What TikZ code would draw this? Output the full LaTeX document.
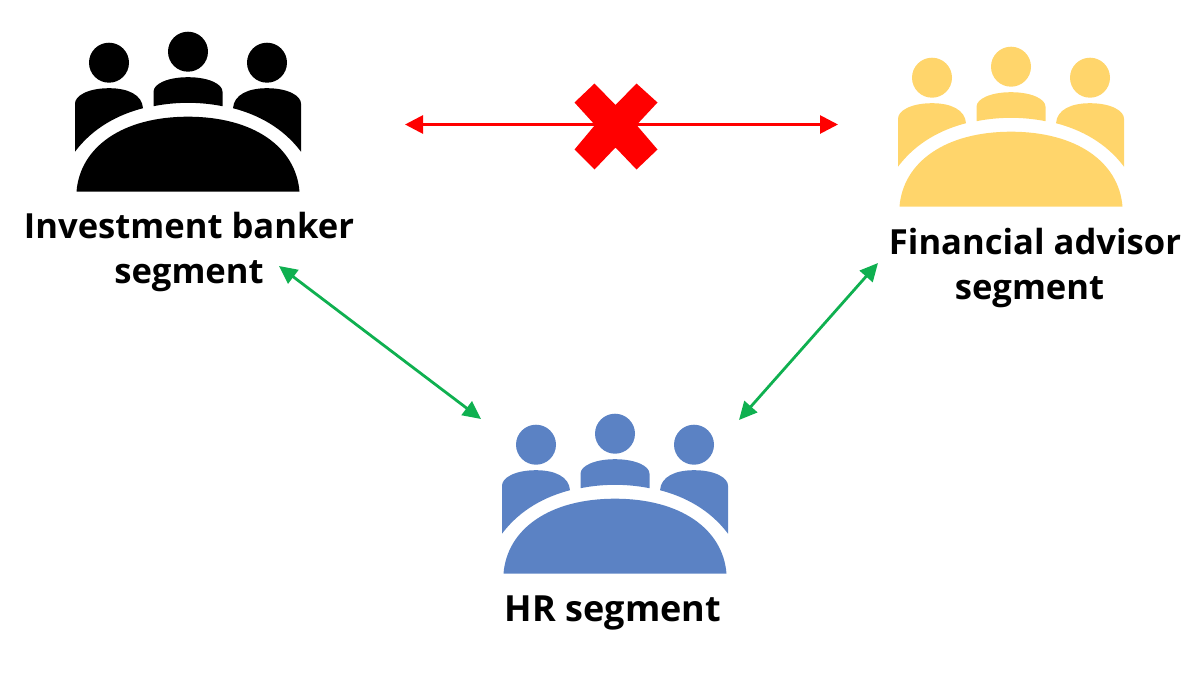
\documentclass[tikz,border=0pt]{standalone}
\usepackage{fontspec}
\setmainfont{Open Sans}
\usetikzlibrary{arrows.meta}
\definecolor{iconyellow}{HTML}{FFD56B}
\definecolor{iconblue}{HTML}{5B82C4}
\definecolor{linkgreen}{HTML}{0FB050}
\tikzset{
  x=1pt,y=-1pt,
  seglabel/.style={font=\fontsize{34.6}{45}\selectfont\bfseries,align=center,text=black,inner sep=0pt},
  redlink/.style={draw=red,line width=2.8pt,{Stealth[length=18pt,width=18pt,inset=0pt]}-{Stealth[length=18pt,width=18pt,inset=0pt]}},
  greenlink/.style={draw=linkgreen,line width=2.8pt,{Stealth[length=18pt,width=17pt,inset=0pt]}-{Stealth[length=18pt,width=17pt,inset=0pt]}},
  pics/meeting/.style={code={
    \fill[#1] (0,-140) circle (20);
    \fill[#1] (-79,-129) circle (20);
    \fill[#1] (79,-129) circle (20);
    % table
    \fill[#1] (-111.5,0) .. controls (-108,-45) and (-65,-75) .. (0,-75) .. controls (65,-75) and (108,-45) .. (111.5,0) -- cycle;
    % centre person
    \fill[#1] (-34.5,-85.5) -- (-34.5,-100) .. controls (-34.5,-108) and (-20,-114.5) .. (0,-114.5) .. controls (20,-114.5) and (34.5,-108) .. (34.5,-100) -- (34.5,-85.5) .. controls (12,-90) and (-12,-90) .. (-34.5,-85.5) -- cycle;
    % left person
    \fill[#1] (-113,-40) -- (-113,-88) .. controls (-113,-96) and (-100,-103.5) .. (-79,-103.5) .. controls (-60,-103.5) and (-46,-97) .. (-45,-83.5) .. controls (-70,-77) and (-95,-64) .. (-113,-40) -- cycle;
    % right person
    \fill[#1] (113,-40) -- (113,-88) .. controls (113,-96) and (100,-103.5) .. (79,-103.5) .. controls (60,-103.5) and (46,-97) .. (45,-83.5) .. controls (70,-77) and (95,-64) .. (113,-40) -- cycle;
  }}
}
\begin{document}
\begin{tikzpicture}
\useasboundingbox (0,0) rectangle (1200,680);
\pic at (188,191.7) {meeting=black};
\pic at (1011,206.7) {meeting=iconyellow};
\pic at (615,573.7) {meeting=iconblue};
\node[seglabel] (banker) at (189,252.5) {Investment banker\\segment};
\node[seglabel] (advisor) at (1035,268.5) {Financial advisor\\segment\hspace*{11pt}};
\node[seglabel,font=\fontsize{36}{45}\selectfont\bfseries] (hr) at (613,613) {HR segment};
\coordinate (bankerR) at (405,124.5);
\coordinate (advisorL) at (838,124.5);
\coordinate (bankerS) at (279,266);
\coordinate (hrL) at (481,419);
\coordinate (advisorS) at (878,263);
\coordinate (hrR) at (739,420);
\draw[redlink] (bankerR) -- (advisorL);
\draw[greenlink] (bankerS) -- (hrL);
\draw[greenlink] (advisorS) -- (hrR);
\fill[red] (594.5,83.5) -- (615.5,105) -- (636.5,83.5) -- (657.5,102.5) -- (636.5,125) -- (657.5,149.5) -- (636.5,169.5) -- (615.5,147.5) -- (594.5,169.5) -- (574.5,149.5) -- (595,125) -- (574.5,102.5) -- cycle;
\end{tikzpicture}
\end{document}
